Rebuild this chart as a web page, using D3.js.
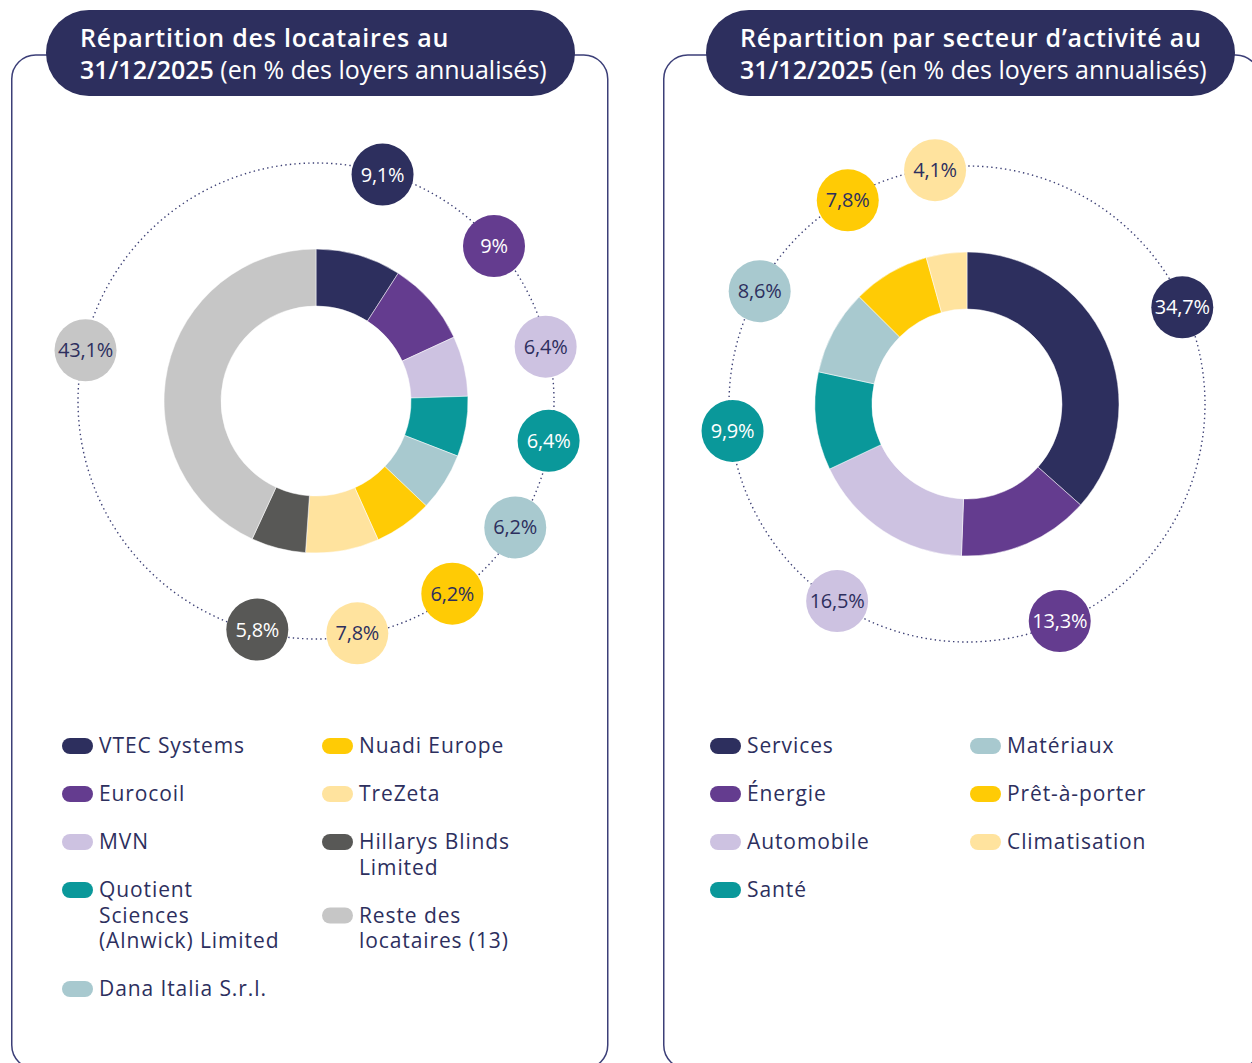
<!DOCTYPE html>
<html>
<head>
<meta charset="utf-8">
<script src="https://cdn.jsdelivr.net/npm/d3@7"></script>
<style>
  body { margin: 0; background: #fff; }
  svg { display: block; }
</style>
</head>
<body>
<div id="chart"></div>
<script>
// data
const tenantNames = ["VTEC Systems", "Eurocoil", "MVN", "Quotient\nSciences\n(Alnwick) Limited", "Dana Italia S.r.l.",
  "Nuadi Europe", "TreZeta", "Hillarys Blinds\nLimited", "Reste des\nlocataires (13)"];
const tenantShares = [9.1, 9, 6.4, 6.4, 6.2, 6.2, 7.8, 5.8, 43.1];
const tenantColors = ["#2d2f5e", "#643c8f", "#cdc2e1", "#0a989a", "#a8c9cf", "#ffcb05", "#ffe39e", "#585856", "#c6c6c6"];

const sectorNames = ["Services", "Énergie", "Automobile", "Santé", "Matériaux", "Prêt-à-porter", "Climatisation"];
const sectorShares = [34.7, 13.3, 16.5, 9.9, 8.6, 7.8, 4.1];
const sectorColors = ["#2d2f5e", "#643c8f", "#cdc2e1", "#0a989a", "#a8c9cf", "#ffcb05", "#ffe39e"];

const titles = [
  ["Répartition des locataires au", "31/12/2025", " (en % des loyers annualisés)"],
  ["Répartition par secteur d’activité au", "31/12/2025", " (en % des loyers annualisés)"]
];

var width = 1252, height = 1063;
var navy = "#2d2f5e";
var font = "'Open Sans', sans-serif";

var svg = d3.select("#chart")
  .append("svg")
  .attr("width", width)
  .attr("height", height);

function fmt(v) {
  return String(v).replace(".", ",") + "%";
}

function drawPanel(x0, pillX, title, names, shares, colors, cx, cy, legendCols) {
  var g = svg.append("g").attr("transform", "translate(" + x0 + ",0)");

  // panel border
  g.append("rect")
    .attr("x", 0.75)
    .attr("y", 55)
    .attr("width", 596)
    .attr("height", 1014)
    .attr("rx", 24)
    .attr("fill", "none")
    .attr("stroke", "#3c3f78")
    .attr("stroke-width", 1.5);

  // title pill
  g.append("rect")
    .attr("x", pillX)
    .attr("y", 10)
    .attr("width", 529)
    .attr("height", 86)
    .attr("rx", 43)
    .attr("fill", navy);

  g.append("text")
    .attr("x", pillX + 34)
    .attr("y", 47)
    .attr("fill", "#fff")
    .style("font-family", font)
    .style("font-size", "25px")
    .style("font-weight", 600)
    .style("letter-spacing", "0.8px")
    .text(title[0]);
  var t2 = g.append("text")
    .attr("x", pillX + 34)
    .attr("y", 79)
    .attr("fill", "#fff")
    .style("font-family", font)
    .style("font-size", "25px")
    .style("font-weight", 600);
  t2.append("tspan").text(title[1]);
  t2.append("tspan").style("font-weight", 500).text(title[2]);

  var data = names.map((n, i) => ({ name: n, value: shares[i], color: colors[i] }));

  var pie = d3.pie().sort(null).value((d) => d.value);
  var arcs = pie(data);

  var arc = d3.arc().innerRadius(95).outerRadius(152);
  var labelArc = d3.arc().innerRadius(236).outerRadius(236);

  var chart = g.append("g").attr("transform", "translate(" + (cx - x0) + "," + cy + ")");

  // dotted ring
  chart.append("circle")
    .attr("r", 238)
    .attr("fill", "none")
    .attr("stroke", "#3d4075")
    .attr("stroke-width", 1.4)
    .attr("stroke-dasharray", "1.4,3.2");

  chart.selectAll("path.slice")
    .data(arcs)
    .enter()
    .append("path")
    .attr("class", "slice")
    .attr("d", arc)
    .attr("fill", (d) => d.data.color)
    .attr("stroke", "#fff")
    .attr("stroke-width", 0.5);

  // value bubbles
  var bubbles = chart.selectAll("g.bubble")
    .data(arcs)
    .enter()
    .append("g")
    .attr("class", "bubble")
    .attr("transform", (d) => "translate(" + labelArc.centroid(d) + ")");

  bubbles.append("circle")
    .attr("r", 31)
    .attr("fill", (d) => d.data.color);

  bubbles.append("text")
    .attr("text-anchor", "middle")
    .attr("dy", "0.35em")
    .attr("fill", (d) => d3.hsl(d.data.color).l < 0.5 ? "#fff" : navy)
    .style("font-family", font)
    .style("font-size", "20px")
    .style("letter-spacing", "-0.2px")
    .text((d) => fmt(d.data.value));

  // legend, two columns
  var split = Math.ceil(data.length / 2);
  var lineH = 25.5;
  [data.slice(0, split), data.slice(split)].forEach(function (col, c) {
    var y = 746;
    var lx = legendCols[c];
    col.forEach(function (d) {
      g.append("rect")
        .attr("x", lx)
        .attr("y", y - 8)
        .attr("width", 31)
        .attr("height", 16)
        .attr("rx", 8)
        .attr("fill", d.color);
      var lines = d.name.split("\n");
      var txt = g.append("text")
        .attr("x", lx + 37)
        .attr("y", y)
        .attr("fill", navy)
        .style("font-family", font)
        .style("font-size", "21px")
        .style("letter-spacing", "0.9px");
      lines.forEach(function (l, i) {
        txt.append("tspan")
          .attr("x", lx + 37)
          .attr("y", y + i * lineH)
          .attr("dy", "0.35em")
          .text(l);
      });
      y += (lines.length - 1) * lineH + 48;
    });
  });
}

drawPanel(11, 35, titles[0], tenantNames, tenantShares, tenantColors, 316, 401, [51, 311]);
drawPanel(663, 43, titles[1], sectorNames, sectorShares, sectorColors, 967, 404, [47, 307]);
</script>
</body>
</html>
